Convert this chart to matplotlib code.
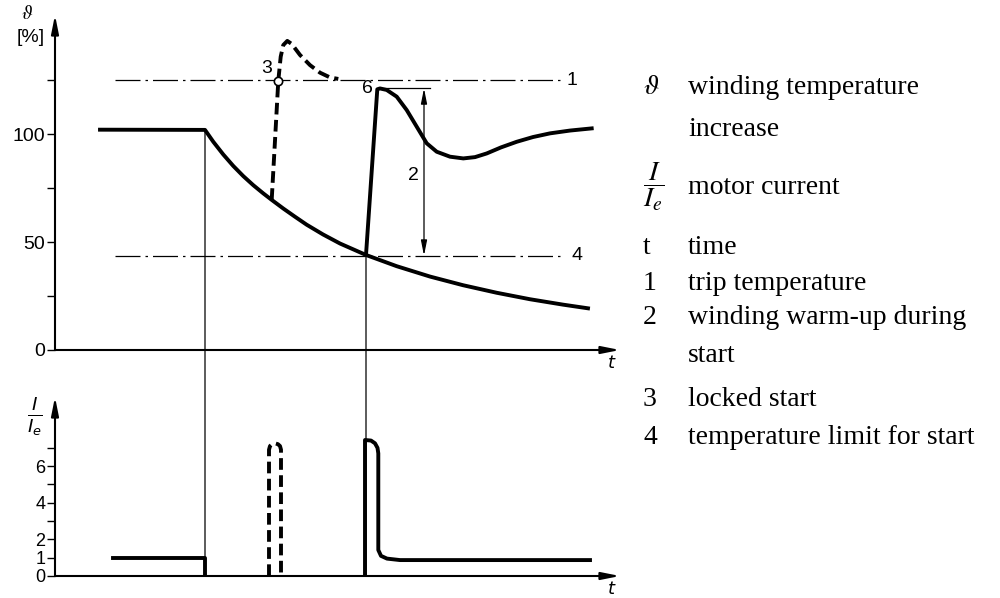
import numpy as np
import matplotlib
matplotlib.use("Agg")
import matplotlib.pyplot as plt
from matplotlib.patches import ConnectionPatch

# time axis in arbitrary units (0 .. 565)
# winding temperature, normal cooling after switch-off
temp_t = [45, 150, 158.3, 168.3, 178.3, 188.3, 198.3, 208.3, 216.7, 228.3, 240,
          251.7, 268, 285, 311, 341.7, 375, 408, 441.7, 475, 508, 533]
temp_v = [102, 101.9, 96.4, 90.5, 85.2, 80.5, 76.3, 72.5, 69.5, 65.5, 61.7,
          58.0, 53.5, 49.3, 44.0, 38.8, 34.0, 30.0, 26.5, 23.5, 21.0, 19.3]

# locked start (dashed)
locked_t = [216.7, 220, 223.3, 225.7, 228.3, 232.3, 236.7, 245, 255, 265, 275, 283.3]
locked_v = [69.5, 97, 124.7, 135.8, 141.2, 143.1, 141.7, 136.6, 131.9, 128.4, 126.2, 125.5]

# normal start from the temperature limit
start_t = [311, 322.3, 325, 331.7, 341.7, 351.7, 361.7, 371.7, 381.7, 395, 408.3,
           420, 431.7, 446, 461.7, 478, 495, 515, 536.7]
start_v = [44.0, 120.7, 121.1, 120.4, 117.3, 111.1, 103.4, 95.7, 91.8, 89.5, 88.7,
           89.3, 91, 93.8, 96.4, 98.6, 100.3, 101.6, 102.6]

trip_temp = 125
limit_temp = 43.7
trip_point = (223.3, 124.7)

# motor current
cur_run_t = [58, 150, 150]
cur_run_v = [1, 1, 0]
cur_locked_t = [214, 214, 215, 217, 220, 223, 225, 226, 226]
cur_locked_v = [0, 6.9, 7.1, 7.2, 7.25, 7.2, 7.1, 6.9, 0]
cur_start_t = [310, 310, 316, 320, 322.5, 323.3, 323.3, 326, 332, 345, 535]
cur_start_v = [0, 7.43, 7.4, 7.25, 7.0, 6.7, 1.42, 1.1, 0.95, 0.87, 0.87]

legend_sym = [r"$\vartheta$", "", r"$\dfrac{I}{I_e}$", "t", "1", "2", "", "3", "4"]
legend_txt = ["winding temperature", "increase", "motor current", "time",
              "trip temperature", "winding warm-up during", "start",
              "locked start", "temperature limit for start"]
legend_y = [88, 130, 187, 247, 283, 317, 355, 400, 437]

plt.rcParams['font.family'] = ['Liberation Sans', 'DejaVu Sans']

W, H = 1000, 598
fig = plt.figure(figsize=(10, 5.98), dpi=100)
ax1 = fig.add_axes([55 / W, 1 - 350 / H, 565 / W, 335 / H])
ax2 = fig.add_axes([55 / W, 1 - 576 / H, 565 / W, 179 / H])

ax1.set_xlim(0, 565)
ax1.set_ylim(0, 155.1)
ax2.set_xlim(0, 565)
ax2.set_ylim(0, 9.78)

arrow = dict(arrowstyle='-|>,head_length=1.1,head_width=0.22', lw=1.5,
             color='k', shrinkA=0, shrinkB=0)
for ax in (ax1, ax2):
    for s in ax.spines.values():
        s.set_visible(False)
    ax.annotate('', xy=(0, 1), xytext=(0, 0), xycoords='axes fraction',
                arrowprops=arrow)
    ax.annotate('', xy=(1, 0), xytext=(0, 0), xycoords='axes fraction',
                arrowprops=arrow)
    ax.set_xticks([])
    ax.tick_params(axis='y', direction='out', length=6, width=1, pad=1)

ax1.set_yticks([0, 25, 50, 75, 100, 125])
ax1.set_yticklabels(["0", "", "50", "", "100", ""])
ax1.tick_params(axis='y', labelsize=14)
ax2.set_yticks(range(8))
ax2.set_yticklabels(["0", "1", "2", "", "4", "", "6", ""])
ax2.tick_params(axis='y', labelsize=13)

thick = 2.8
ax1.plot(temp_t, temp_v, color='k', lw=thick, solid_joinstyle='round')
ax1.plot(locked_t, locked_v, color='k', lw=thick, ls=(0, (3, 1.4)))
ax1.plot(start_t, start_v, color='k', lw=thick, solid_joinstyle='round')

dashdot = (0, (20, 4, 2, 4))
ax1.plot([60, 508], [trip_temp, trip_temp], color='k', lw=0.9, ls=dashdot)
ax1.plot([60, 508], [limit_temp, limit_temp], color='k', lw=0.9, ls=dashdot)
ax1.plot(*trip_point, 'o', ms=6, mfc='white', mec='k', mew=1.2)

# warm-up span
ax1.plot([325, 375], [121.1, 121.1], color='k', lw=0.9)
ax1.annotate('', xy=(369, limit_temp), xytext=(369, 121.1),
             arrowprops=dict(arrowstyle='<|-|>,head_length=0.9,head_width=0.18',
                             lw=0.9, color='k', shrinkA=0, shrinkB=0))

fs = 14
ax1.text(212, 126.5, "3", fontsize=fs, ha='center', va='bottom')
ax1.text(318, 121, "6", fontsize=fs, ha='right', va='center')
ax1.text(364, 81, "2", fontsize=fs, ha='right', va='center')
ax1.text(511, trip_temp, "1", fontsize=fs, ha='left', va='center')
ax1.text(516, limit_temp, "4", fontsize=fs, ha='left', va='center')

ax2.plot(cur_run_t, cur_run_v, color='k', lw=thick)
ax2.plot(cur_locked_t, cur_locked_v, color='k', lw=thick, ls=(0, (3, 1.4)))
ax2.plot(cur_start_t, cur_start_v, color='k', lw=thick, solid_joinstyle='round')

# vertical guide lines across both plots
for t0, v0 in [(150, 102), (311, 44.0)]:
    con = ConnectionPatch(xyA=(t0, v0), coordsA=ax1.transData,
                          xyB=(t0, 0), coordsB=ax2.transData,
                          color='k', lw=0.9)
    fig.add_artist(con)

# axis labels
fig.text(27 / W, 1 - 14 / H, r"$\vartheta$", fontsize=14, ha='center', va='center',
         math_fontfamily='stix')
fig.text(31 / W, 1 - 38 / H, "[%]", fontsize=14, ha='center', va='center')
fig.text(612 / W, 1 - 364 / H, r"$t$", fontsize=13, ha='center', va='center',
         math_fontfamily='dejavusans')
fig.text(612 / W, 1 - 590 / H, r"$t$", fontsize=13, ha='center', va='center',
         math_fontfamily='dejavusans')
fig.text(35 / W, 1 - 416 / H, r"$\frac{I}{I_e}$", fontsize=19, ha='center', va='center',
         math_fontfamily='dejavusans')

# explanation column
for s, txt, y in zip(legend_sym, legend_txt, legend_y):
    if s:
        fig.text(643 / W, 1 - y / H, s, fontsize=20, ha='left', va='center',
                 family='Liberation Serif', math_fontfamily='stix')
    fig.text(688 / W, 1 - y / H, txt, fontsize=20, ha='left', va='center',
             family='Liberation Serif')

fig.savefig("out.png", dpi=100)
